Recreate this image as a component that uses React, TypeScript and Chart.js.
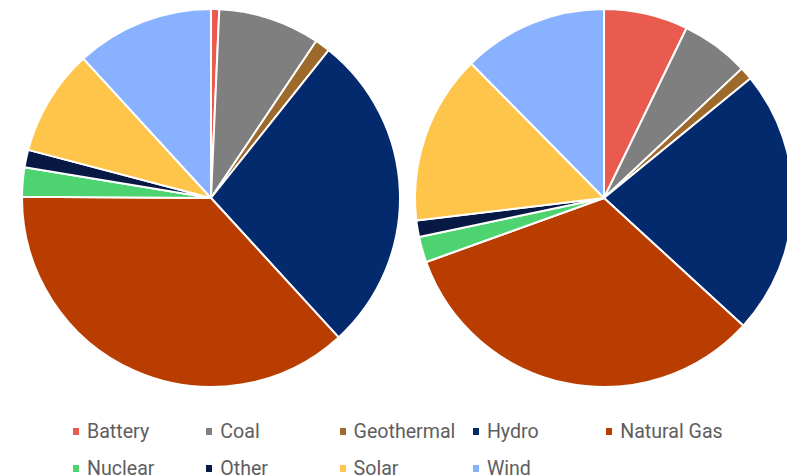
import React, { useEffect, useRef } from "react";
import { Chart, registerables } from "chart.js";

Chart.register(...registerables);

const categories = ["Battery", "Coal", "Geothermal", "Hydro", "Natural Gas", "Nuclear", "Other", "Solar", "Wind"];
const leftValues = [0.7, 8.7, 1.3, 27.5, 36.9, 2.5, 1.5, 9.1, 11.8];
const rightValues = [7.2, 5.8, 1.1, 22.7, 32.7, 2.2, 1.4, 14.5, 12.4];
const colors = ["#EA5B4F", "#7F7F7F", "#9E6A2C", "#042A6E", "#B93D00", "#4DD36F", "#061843", "#FFC44A", "#88B2FF"];

function Pie({ values, left, top }: { values: number[]; left: number; top: number }) {
  const ref = useRef<HTMLCanvasElement | null>(null);
  useEffect(() => {
    if (!ref.current) return;
    const chart = new Chart(ref.current, {
      type: "pie",
      data: {
        labels: categories,
        datasets: [
          {
            data: values,
            backgroundColor: colors,
            borderColor: "#ffffff",
            borderWidth: 2,
          },
        ],
      },
      options: {
        animation: false,
        responsive: false,
        maintainAspectRatio: false,
        layout: { padding: 0 },
        plugins: { legend: { display: false }, tooltip: { enabled: false } },
      },
    });
    return () => chart.destroy();
  }, [values]);
  return (
    <canvas
      ref={ref}
      width={380}
      height={380}
      style={{ position: "absolute", left, top, width: 380, height: 380 }}
    />
  );
}

export default function App() {
  return (
    <div
      style={{
        position: "fixed",
        left: 0,
        top: 0,
        width: 787,
        height: 476,
        overflow: "hidden",
        background: "#ffffff",
      }}
    >
      <Pie values={leftValues} left={20.5} top={7.5} />
      <Pie values={rightValues} left={414} top={8} />
      <div
        style={{
          position: "absolute",
          left: 73,
          top: 413,
          display: "grid",
          gridTemplateColumns: "repeat(5, 133.3px)",
          gridAutoRows: "37px",
          fontFamily: "Roboto, sans-serif",
          fontSize: 19.6,
          color: "#5e5e5e",
        }}
      >
        {categories.map((c, i) => (
          <div key={c} style={{ display: "flex", alignItems: "center", whiteSpace: "nowrap" }}>
            <span
              style={{
                display: "inline-block",
                width: 6,
                height: 7,
                background: colors[i],
                marginRight: 8,
              }}
            />
            <span>{c}</span>
          </div>
        ))}
      </div>
    </div>
  );
}
